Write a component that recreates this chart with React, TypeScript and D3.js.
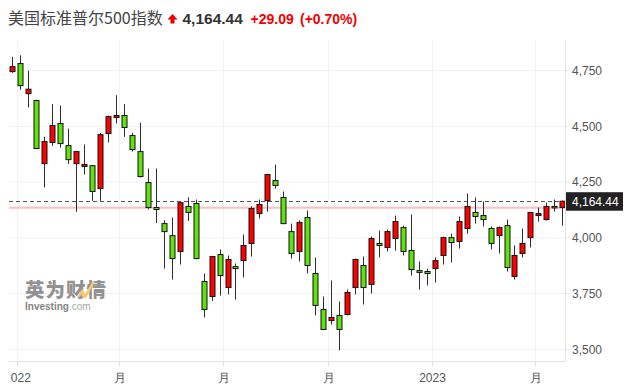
import React from "react";
import * as d3 from "d3";

// Weekly candles (Chinese convention: red = up, green = down)
const startDate = "2021-12-28";
const opens = [4746,4782,4647,4616,4333,4428,4513,4414,4333,4320,4324,4221,4468,4540,4549,4459,4387,4248,4136,4064,4010,3939,4141,4154,3804,3737,3925,3777,3871,3898,3975,4109,4167,4257,4181,4028,3939,4091,3840,3679,3629,3652,3656,3777,3876,3791,3975,3957,3997,4046,3943,3853,3849,3862,3921,4001,3984,4042,4114,4100,4042,4010,4055,3827,3930,4001,4100,4082,4141,4136];
const highs = [4812,4819,4750,4620,4454,4600,4594,4490,4390,4419,4326,4471,4549,4640,4600,4472,4517,4311,4311,4079,4091,4160,4182,4172,3840,3919,3948,3921,3885,4015,4141,4172,4286,4329,4208,4064,4078,4123,3912,3737,3809,3714,3768,3907,3916,4006,4033,4037,4100,4055,4105,3894,3862,3912,4006,4019,4096,4199,4181,4163,4051,4051,4082,3966,4042,4114,4136,4158,4172,4167];
const lows = [4740,4665,4585,4398,4226,4413,4405,4332,4117,4284,4166,4166,4428,4513,4453,4387,4271,4127,4067,3862,3813,3880,4076,3904,3643,3717,3741,3746,3723,3822,3916,4087,4118,4221,4061,3907,3894,3840,3652,3589,3611,3495,3652,3746,3701,3750,3912,3939,3943,3921,3831,3768,3786,3800,3880,3889,3952,4019,4064,4051,3948,3930,3849,3813,3912,3957,4073,4078,4118,4055];
const closes = [4768,4683,4667,4401,4432,4504,4423,4351,4387,4329,4208,4463,4544,4549,4495,4396,4275,4136,4127,4028,3907,4158,4114,3907,3679,3916,3831,3903,3862,3966,4132,4150,4284,4235,4064,3930,4069,3876,3697,3589,3643,3589,3755,3903,3777,3997,3966,4028,4073,3939,3858,3845,3840,3898,4001,3979,4073,4141,4096,4082,3975,4046,3867,3921,3975,4114,4109,4141,4135.35,4164.44];

const yTicks = [3500, 3750, 4000, 4250, 4500, 4750];
const xTickDates = ["2022-01-01", "2022-04-01", "2022-07-01", "2022-10-01", "2023-01-01", "2023-04-01"];
const xTickLabels = ["2022", "月", "月", "月", "2023", "月"];

const titleName = "美国标准普尔500指数";
const lastPrice = 4164.44;
const change = 29.09;
const changePct = 0.7;
const prevClose = 4135.35;

const UP = "#ff0000";
const DOWN = "#5fe30c";

export default function App() {
  const W = 628, H = 391;
  const plotL = 9, plotR = 565.5, plotT = 40, plotB = 361;
  const parse = d3.utcParse("%Y-%m-%d");
  const d0 = parse(startDate)!;
  const dates = opens.map((_, i) => d3.utcDay.offset(d0, i * 7));
  const x = d3.scaleUtc().domain([dates[0], dates[dates.length - 1]]).range([12.3, 562.3]);
  const y = d3.scaleLinear().domain([3500, 4750]).range([349.3, 70.7]);
  const fmt = d3.format(",");
  const fmt2 = d3.format(",.2f");
  const bodyW = 5;
  const latin = "'Liberation Sans', Arial, sans-serif";

  return (
    <svg width={W} height={H} style={{ position: "absolute", left: 0, top: 0, background: "#fff" }}>
      <defs>
        <clipPath id="plot">
          <rect x={plotL} y={plotT} width={plotR - plotL} height={plotB - plotT} />
        </clipPath>
        <clipPath id="xlab">
          <rect x={10.5} y={362} width={600} height={29} />
        </clipPath>
      </defs>
      <rect x={0} y={0} width={W} height={H} fill="#fff" />

      {/* Title */}
      <text x={8} y={24} fontFamily="'Noto Sans CJK SC', sans-serif" fontSize={16} fill="#444">{titleName}</text>
      <path d="M172.5,14 L177.5,19.5 L174.5,19.5 L174.5,23.5 L170.5,23.5 L170.5,19.5 L167.5,19.5 Z" fill="#ee0000" />
      <text x={182.5} y={24} fontFamily={latin} fontSize={15.5} fontWeight="bold" fill="#333">{fmt2(lastPrice)}</text>
      <text x={250.5} y={24} fontFamily={latin} fontSize={14} fontWeight="bold" fill="#ee0000">{"+" + fmt2(change)}</text>
      <text x={300} y={24} fontFamily={latin} fontSize={14} fontWeight="bold" fill="#ee0000">{"(+" + d3.format(".2f")(changePct) + "%)"}</text>

      {/* Grid */}
      {yTicks.map((t) => (
        <line key={"gy" + t} x1={plotL} x2={plotR} y1={y(t)} y2={y(t)} stroke="#f2f2f2" strokeWidth={1} />
      ))}
      {xTickDates.map((d) => {
        const xx = Math.round(x(parse(d)!)) + 0.5;
        return <line key={"gx" + d} x1={xx} x2={xx} y1={plotT} y2={plotB} stroke="#f2f2f2" strokeWidth={1} />;
      })}

      {/* Watermark */}
      <g opacity={0.75}>
        <text x={25} y={296.5} fontFamily="'Noto Sans CJK SC', sans-serif" fontSize={19.5} fontWeight="900" fill="#6e6e6e" letterSpacing={1}>英为财情</text>
        <path d="M78,296 L82,289 L85,294 L93,281 L95,282 L86,298 L83,298 L81,294 L80,297 Z" fill="#f4b942" />
        <text x={25} y={310} fontFamily={latin} fontSize={10} fontWeight="bold" fill="#5a5a5a">Investing<tspan fontWeight="normal" fill="#8a8a8a">.com</tspan></text>
      </g>

      {/* Reference lines */}
      <g clipPath="url(#plot)">
        <line x1={plotL} x2={plotR} y1={y(prevClose)} y2={y(prevClose)} stroke="#ffb0b0" strokeWidth={2} opacity={0.8} />
        <line x1={plotL} x2={plotR} y1={Math.round(y(lastPrice)) + 0.5} y2={Math.round(y(lastPrice)) + 0.5} stroke="#555" strokeWidth={1} strokeDasharray="4,3" />
      </g>

      {/* Candles */}
      <g clipPath="url(#plot)">
        {opens.map((o, i) => {
          const c = closes[i];
          const up = c >= o;
          const cx = Math.round(x(dates[i])) + 0.5;
          const top = y(Math.max(o, c));
          const bot = y(Math.min(o, c));
          const h = Math.max(bot - top, 1.5);
          return (
            <g key={i}>
              <line x1={cx} x2={cx} y1={y(highs[i])} y2={y(lows[i])} stroke="#2b2f33" strokeWidth={1} />
              <rect x={cx - bodyW / 2} y={top} width={bodyW} height={h} fill={up ? UP : DOWN} stroke="#111" strokeWidth={1} />
            </g>
          );
        })}
      </g>

      {/* Axes frame */}
      <line x1={plotR} x2={plotR} y1={plotT} y2={plotB} stroke="#e3e3e3" strokeWidth={1} />
      <line x1={plotL} x2={plotR} y1={plotB + 0.5} y2={plotB + 0.5} stroke="#e3e3e3" strokeWidth={1} />

      {/* Y axis labels */}
      {yTicks.map((t) => (
        <g key={"yl" + t}>
          <line x1={plotR} x2={plotR + 4} y1={y(t)} y2={y(t)} stroke="#e3e3e3" />
          <text x={572} y={y(t) + 4.3} fontFamily={latin} fontSize={12} fill="#555">{fmt(t)}</text>
        </g>
      ))}

      {/* X axis */}
      <g clipPath="url(#xlab)">
        {xTickDates.map((d, i) => {
          const xx = Math.round(x(parse(d)!)) + 0.5;
          return (
            <g key={"xl" + d}>
              <line x1={xx} x2={xx} y1={plotB} y2={plotB + 5} stroke="#ddd" />
              <text x={xx} y={382} textAnchor="middle" fontFamily={latin} fontSize={12} fill="#555">{xTickLabels[i]}</text>
            </g>
          );
        })}
      </g>

      {/* Last price label */}
      <rect x={566} y={y(lastPrice) - 9} width={57} height={18.5} fill="#222" />
      <text x={572} y={y(lastPrice) + 4.5} fontFamily={latin} fontSize={12} fill="#fff">{fmt2(lastPrice)}</text>
    </svg>
  );
}
